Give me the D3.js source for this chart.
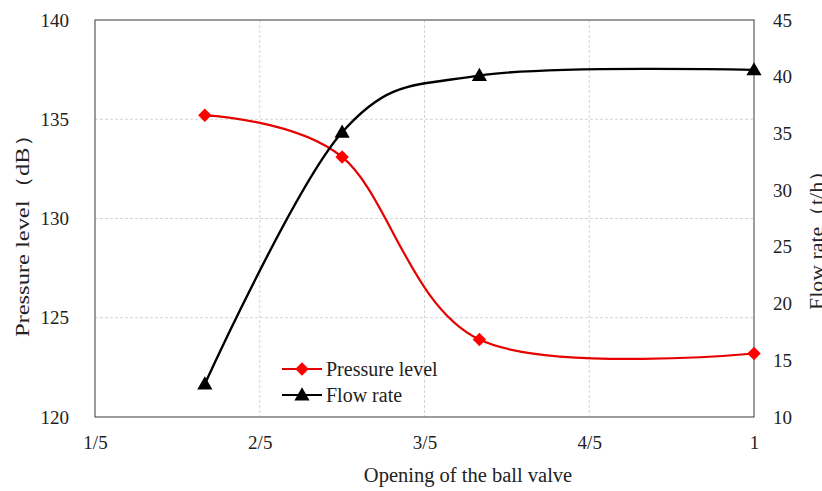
<!DOCTYPE html>
<html>
<head>
<meta charset="utf-8">
<script src="https://cdn.jsdelivr.net/npm/d3@7"></script>
<style>
  html, body { margin: 0; padding: 0; background: #fff; }
  svg { display: block; }
  text { font-family: "Liberation Serif", "Times New Roman", serif; fill: #222; }
</style>
</head>
<body>
<svg id="chart" width="822" height="491"></svg>
<script>
// Ball valve opening vs. pressure level and flow rate
const openings = [1/3, 1/2, 2/3, 1];
const pressureLevel = [135.2, 133.1, 123.9, 123.2];   // dB
const flowRate = [12.9, 35.1, 40.1, 40.6];            // t/h
const xTickValues = [0.2, 0.4, 0.6, 0.8, 1.0];
const xTickLabels = ["1/5", "2/5", "3/5", "4/5", "1"];
const leftTicks = [120, 125, 130, 135, 140];
const rightTicks = [10, 15, 20, 25, 30, 35, 40, 45];

const W = 822, H = 491;
const margin = { top: 20, right: 68, bottom: 74, left: 95 };
const iw = W - margin.left - margin.right;
const ih = H - margin.top - margin.bottom;

const svg = d3.select("#chart");
const g = svg.append("g").attr("transform", `translate(${margin.left},${margin.top})`);

const x = d3.scaleLinear().domain([0.2, 1.0]).range([0, iw]);
const yL = d3.scaleLinear().domain([120, 140]).range([ih, 0]);
const yR = d3.scaleLinear().domain([10, 45]).range([ih, 0]);

// grid lines
const grid = g.append("g").attr("class", "grid");
grid.selectAll("line.h")
  .data(leftTicks.filter(v => v > 120 && v < 140))
  .join("line")
  .attr("x1", 0).attr("x2", iw)
  .attr("y1", d => yL(d)).attr("y2", d => yL(d))
  .attr("stroke", "#d4d4d4").attr("stroke-width", 1).attr("stroke-dasharray", "3,2");
grid.selectAll("line.v")
  .data(xTickValues.filter(v => v > 0.2 && v < 1.0))
  .join("line")
  .attr("y1", 0).attr("y2", ih)
  .attr("x1", d => x(d)).attr("x2", d => x(d))
  .attr("stroke", "#d4d4d4").attr("stroke-width", 1).attr("stroke-dasharray", "3,2");

// axes
const fmtX = d => xTickLabels[xTickValues.findIndex(v => Math.abs(v - d) < 1e-9)];
const xAxis = g.append("g").attr("transform", `translate(0,${ih})`)
  .call(d3.axisBottom(x).tickValues(xTickValues).tickFormat(fmtX).tickSize(0).tickPadding(19));
const yAxisL = g.append("g")
  .call(d3.axisLeft(yL).tickValues(leftTicks).tickSize(0).tickPadding(26));
const yAxisR = g.append("g").attr("transform", `translate(${iw},0)`)
  .call(d3.axisRight(yR).tickValues(rightTicks).tickSize(0).tickPadding(19));

[xAxis, yAxisL, yAxisR].forEach(a => {
  a.select(".domain").remove();
  a.selectAll("text").attr("font-size", 19).attr("font-family", "Liberation Serif").attr("fill", "#222");
});

// plot frame
g.append("rect").attr("x", 0).attr("y", 0).attr("width", iw).attr("height", ih)
  .attr("fill", "none").attr("stroke", "#3a3a3a").attr("stroke-width", 1);

// series lines
const curve = d3.curveCardinal.tension(0);
const pressureLine = d3.line().x((d, i) => x(openings[i])).y(d => yL(d)).curve(curve);
const flowLine = d3.line().x((d, i) => x(openings[i])).y(d => yR(d)).curve(curve);

g.append("path").datum(pressureLevel).attr("d", pressureLine)
  .attr("fill", "none").attr("stroke", "#e60000").attr("stroke-width", 2.2);
g.append("path").datum(flowRate).attr("d", flowLine)
  .attr("fill", "none").attr("stroke", "#000").attr("stroke-width", 2.4);

const diamond = d3.symbol().type(d3.symbolDiamond2).size(115);
const triangle = d3.symbol().type(d3.symbolTriangle).size(100);

g.selectAll("path.pm").data(pressureLevel).join("path").attr("class", "pm")
  .attr("d", diamond)
  .attr("transform", (d, i) => `translate(${x(openings[i])},${yL(d)})`)
  .attr("fill", "#ff0000");
g.selectAll("path.fm").data(flowRate).join("path").attr("class", "fm")
  .attr("d", triangle)
  .attr("transform", (d, i) => `translate(${x(openings[i])},${yR(d) + 1})`)
  .attr("fill", "#000");

// axis titles
svg.append("text")
  .attr("transform", "translate(468,482)")
  .attr("text-anchor", "middle").attr("font-size", 20.5)
  .text("Opening of the ball valve");
svg.append("text")
  .attr("transform", "translate(29,230) rotate(-90)")
  .attr("text-anchor", "middle").attr("font-size", 19).attr("fill", "#333")
  .attr("textLength", 214).attr("lengthAdjust", "spacingAndGlyphs")
  .text("Pressure level（dB）");
svg.append("text")
  .attr("transform", "translate(823,235) rotate(-90)")
  .attr("text-anchor", "middle").attr("font-size", 19).attr("fill", "#333")
  .attr("textLength", 150).attr("lengthAdjust", "spacingAndGlyphs")
  .text("Flow rate（t/h）");

// legend
const legend = svg.append("g").attr("transform", "translate(282,369)");
const items = [
  { name: "Pressure level", color: "#e60000", sym: diamond, fill: "#ff0000" },
  { name: "Flow rate", color: "#000", sym: triangle, fill: "#000" }
];
items.forEach((it, i) => {
  const row = legend.append("g").attr("transform", `translate(0,${i * 26})`);
  row.append("line").attr("x1", 0).attr("x2", 40).attr("y1", 0).attr("y2", 0)
    .attr("stroke", it.color).attr("stroke-width", 2.2);
  row.append("path").attr("d", it.sym).attr("transform", `translate(20,${i ? 1 : 0})`).attr("fill", it.fill);
  row.append("text").attr("x", 44).attr("y", 6.5).attr("font-size", 20).text(it.name);
});
</script>
</body>
</html>
